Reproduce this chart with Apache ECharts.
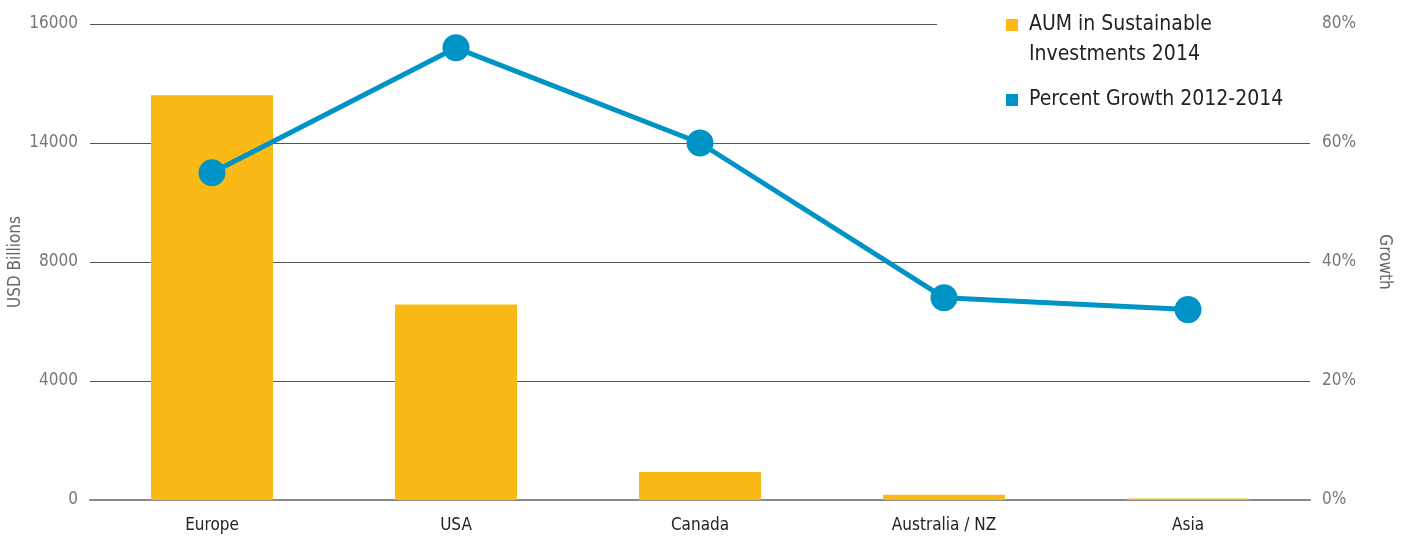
<!DOCTYPE html>
<html>
<head>
<meta charset="utf-8">
<script src="https://cdn.jsdelivr.net/npm/echarts@6/dist/echarts.min.js"></script>
<style>html,body{margin:0;padding:0;background:#fff;}#c{width:1408px;height:538px;}</style>
</head>
<body>
<div id="c"></div>
<script>
var categories = ['Europe', 'USA', 'Canada', 'Australia / NZ', 'Asia'];
var aumValues = [13608, 6572, 945, 180, 53];
var growthValues = [55, 76, 60, 34, 32];
var leftTickLabels = ['0', '4000', '8000', '14000', '16000'];
var rightTickLabels = ['0%', '20%', '40%', '60%', '80%'];
var seriesNames = ['AUM in Sustainable Investments 2014', 'Percent Growth 2012-2014'];

var FONT = '"Liberation Sans Narrow", "DejaVu Sans Condensed", sans-serif';
var legendText = {fontFamily: FONT, fontSize: 21, color: '#222', lineHeight: 30};
var chart = echarts.init(document.getElementById('c'), null, {renderer: 'canvas'});
chart.setOption({
  animation: false,
  backgroundColor: '#fff',
  textStyle: {fontFamily: FONT},
  grid: {left: 90, right: 98, top: 24, bottom: 38, containLabel: false, outerBoundsMode: 'none'},
  legend: [{
    orient: 'vertical',
    left: 1006,
    top: -20,
    padding: 0,
    itemWidth: 12,
    itemHeight: 12,
    icon: 'rect',
    z: 5,
    textStyle: legendText,
    formatter: function (n) { return '\n ' + n.replace(' Investments', '\n Investments'); },
    data: [seriesNames[0]]
  }, {
    orient: 'vertical',
    left: 1006,
    top: 85,
    padding: 0,
    itemWidth: 12,
    itemHeight: 12,
    icon: 'rect',
    z: 5,
    textStyle: legendText,
    formatter: function (n) { return ' ' + n; },
    data: [seriesNames[1]]
  }],
  graphic: [{
    type: 'rect', z: 3,
    shape: {x: 937, y: 18, width: 375, height: 12},
    style: {fill: '#fff'}
  }],
  xAxis: {
    type: 'category',
    data: categories,
    axisLine: {lineStyle: {color: '#888', width: 2}},
    axisTick: {show: false},
    axisLabel: {fontFamily: FONT, fontSize: 17, color: '#222', margin: 17}
  },
  yAxis: [{
    type: 'value',
    min: 0, max: 16000, interval: 4000,
    name: 'USD Billions',
    nameLocation: 'middle',
    nameGap: 66,
    nameRotate: 90,
    nameMoveOverlap: false,
    nameTextStyle: {fontFamily: FONT, fontSize: 17, color: '#666'},
    axisLine: {show: false},
    axisTick: {show: false},
    splitLine: {lineStyle: {color: '#555', width: 1}},
    axisLabel: {
      fontFamily: FONT, fontSize: 17, color: '#777', margin: 12,
      formatter: function (v) { return leftTickLabels[Math.round(v / 4000)]; }
    }
  }, {
    type: 'value',
    min: 0, max: 80, interval: 20,
    name: 'Growth',
    nameLocation: 'middle',
    nameGap: 66,
    nameRotate: -90,
    nameMoveOverlap: false,
    nameTextStyle: {fontFamily: FONT, fontSize: 17, color: '#666'},
    axisLine: {show: false},
    axisTick: {show: false},
    splitLine: {show: false},
    axisLabel: {
      fontFamily: FONT, fontSize: 17, color: '#777', margin: 12,
      formatter: function (v) { return rightTickLabels[Math.round(v / 20)]; }
    }
  }],
  series: [{
    name: seriesNames[0],
    type: 'bar',
    data: aumValues,
    barWidth: '50%',
    itemStyle: {color: '#FBB915'},
    z: 2
  }, {
    name: seriesNames[1],
    type: 'line',
    yAxisIndex: 1,
    data: growthValues,
    symbol: 'circle',
    symbolSize: 27,
    lineStyle: {color: '#0093C6', width: 5},
    itemStyle: {color: '#0093C6'},
    z: 4
  }]
});
</script>
</body>
</html>
